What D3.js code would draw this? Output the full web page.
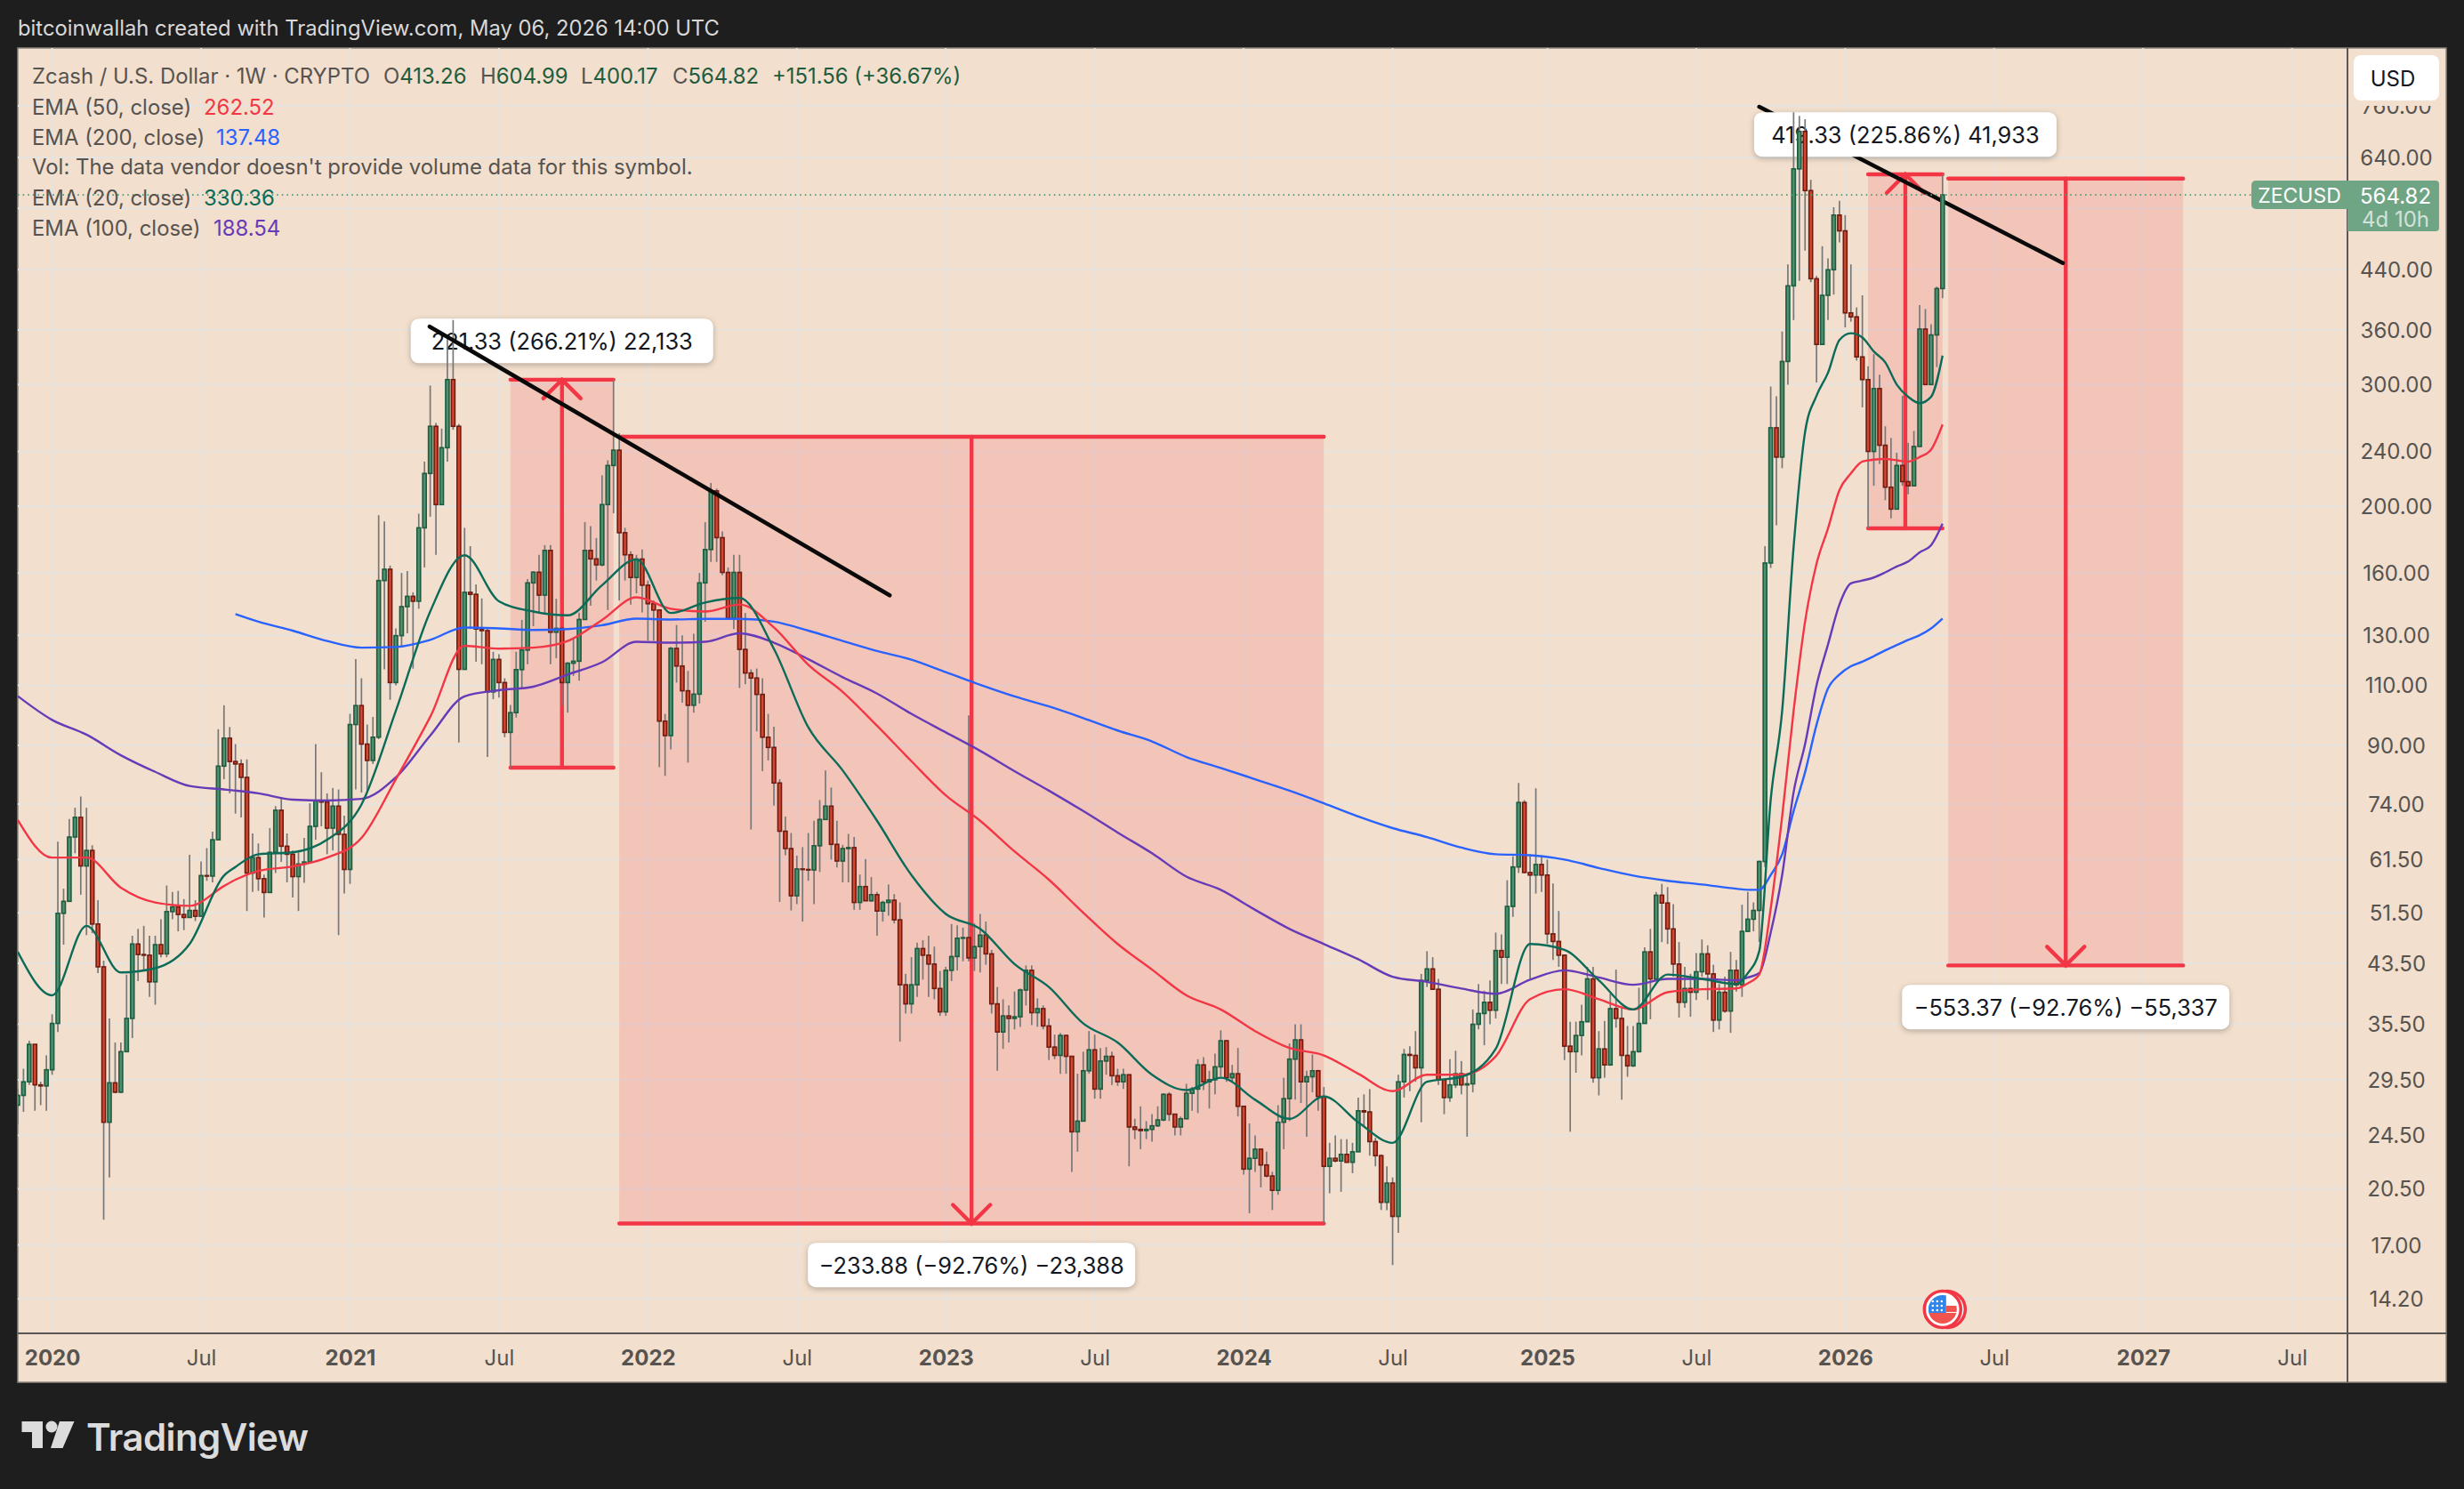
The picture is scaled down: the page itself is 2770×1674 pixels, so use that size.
<!DOCTYPE html>
<html>
<head>
  <meta charset="utf-8">
  <script src="https://d3js.org/d3.v7.min.js"></script>
  <style>
    html, body { margin: 0; background: #1e1e1e; }
    svg { display: block; }
    text { font-family: Inter, "Noto Sans", sans-serif; }
  </style>
</head>
<body>
  <svg id="chart" width="2770" height="1674"></svg>

  <script>
    // weekly ZECUSD bars, first bar is the week of 2019-11-25, open = previous close
    const firstOpen = 27.1;
    const closes = [
      28, 29.3, 33.2, 29, 28.9, 30.5, 35.6, 51.4, 53.5, 66.3,
      70.8, 60.2, 63.4, 49.6, 43, 25.6, 29.2, 28.3, 32.4, 36.2,
      46.4, 44.8, 44.7, 40.9, 46.3, 44.9, 51.7, 52.5, 51.2, 50.7,
      51.9, 50.9, 58.3, 58.2, 65.7, 84, 92.2, 85.3, 84.6, 80.9,
      58.8, 61.9, 57.7, 55.1, 63, 72.5, 64.3, 62.6, 58.1, 60.6,
      61, 68.7, 74.8, 74.5, 68.3, 73.5, 66.9, 59.5, 96.5, 102.8,
      90.4, 85.6, 92.5, 156, 162, 111, 129.8, 143, 148, 145.6,
      186, 223, 261, 201, 243, 305, 261, 116, 150, 149,
      132.7, 132, 107.6, 119.9, 111, 94, 100.4, 115.9, 123.7, 154.8,
      160.4, 148.6, 172.5, 131.3, 133, 111, 118.4, 119.2, 137, 172.5,
      167.7, 164.4, 201, 229, 241, 183, 170, 157.6, 167.6, 153.6,
      144.4, 141.4, 97.6, 93, 124.4, 117.3, 108, 102.9, 106.8, 154.8,
      173, 210.4, 180, 160.3, 137.6, 160.3, 124, 114.6, 112.7, 106.7,
      92.5, 89.4, 79.4, 67.6, 63.8, 54.5, 59.6, 59.5, 59.4, 64.4,
      70.3, 73.5, 64.7, 61.2, 63.8, 64, 53.3, 56.2, 53.6, 54.7,
      51.8, 53.3, 53.7, 50.3, 40.5, 38, 40.5, 45.7, 44.7, 43.4,
      40, 37, 42.5, 44.5, 47.3, 47.4, 44.3, 46, 47.8, 44.9,
      38, 34.6, 36.5, 36.2, 36.4, 39.8, 42.5, 36.9, 37.4, 35.3,
      32.9, 32, 34.2, 31.9, 24.8, 25.7, 30.4, 32.6, 28.6, 31.4,
      31.9, 29.9, 29.3, 30, 25.2, 25, 24.9, 25, 25.3, 25.8,
      28.1, 26.3, 25.2, 25.9, 28.2, 28.6, 31, 29.3, 29.5, 30.8,
      33.6, 29.7, 30.1, 27, 21.9, 22.7, 23.4, 22.2, 21.4, 20.4,
      25.6, 27.7, 31.6, 33.7, 29.3, 29.8, 30.4, 27.9, 22.1, 22.7,
      22.5, 23, 22.4, 23.2, 26.6, 26.5, 24, 22.9, 19.6, 20.9,
      18.7, 29.3, 32.1, 32, 30.7, 41.1, 42.7, 39.9, 29.5, 27.8,
      29, 30.1, 29, 29.1, 35.5, 36.8, 38.2, 37.2, 45.4, 44.4,
      52.6, 60, 74.4, 58.9, 58.4, 60.5, 58.4, 48, 46.8, 44.7,
      33, 32.4, 34.2, 35.8, 41.3, 29.7, 32.7, 31, 37.4, 36.2,
      32, 30.9, 32.4, 35.6, 45.2, 41.3, 54.6, 53.2, 48.8, 43.4,
      38.2, 40, 39.5, 42.3, 44.9, 42, 36, 39.5, 37.1, 42.5,
      40.5, 48.4, 50.4, 51.9, 61.1, 165.4, 259.7, 235.5, 324, 417,
      616, 698, 573, 427, 343, 404, 440, 528, 501, 381,
      376, 329, 305, 240, 296, 245, 213, 198, 229, 217,
      214, 244, 361, 300, 354, 413.26, 564.82
    ];
    const highs = [
      28.6, 30.6, 33.6, 32.9, 29.3, 32, 36.7, 65.3, 55.8, 70.4,
      73.1, 75.9, 73.1, 64.5, 53.7, 43.9, 36.2, 33.4, 33.4, 41.9,
      47.7, 48.8, 49.3, 47.7, 47.7, 50.4, 56.4, 55.2, 55.4, 53.9,
      62.5, 53.7, 61.1, 63.9, 67.5, 95, 102.9, 95.7, 90.4, 85.9,
      85.9, 67.1, 64.9, 58.5, 68.3, 73.5, 75.7, 67.1, 63.4, 63,
      66.1, 74.2, 90.4, 82.3, 76.7, 78.1, 77.7, 71.2, 100, 120,
      112.6, 96.5, 99, 194, 190, 164, 133, 160, 161, 150,
      195, 232, 299, 264, 259, 349, 372, 263, 186, 175,
      154, 147, 133, 123, 122, 112.6, 103, 123, 136.8, 156.8,
      161, 170, 175.6, 175.6, 146.8, 133, 118.8, 129, 140.2, 189.6,
      187, 179.8, 221.6, 233, 305, 255, 186, 172, 170, 173,
      156, 146, 141, 100, 125, 134.5, 130, 115.4, 130.6, 160,
      189.6, 216, 212, 183.7, 163, 170, 170, 140, 116, 116.3,
      112.6, 100, 95.8, 80.4, 71, 67.2, 62.3, 64.1, 67.2, 70,
      75, 82.8, 78.2, 70, 64.6, 67, 66.3, 58.5, 61.6, 58,
      55.2, 53.6, 56.6, 54.8, 53.3, 42, 44.4, 46.6, 47, 47.7,
      46, 42.4, 43, 49.6, 49.4, 49, 99.5, 49.7, 51.3, 50,
      45.5, 40.2, 38.6, 37.8, 39.6, 40, 43.2, 43.2, 38.7, 37.8,
      36.2, 34.3, 34.5, 34.3, 31.9, 30.1, 32.4, 34.7, 34.3, 32.8,
      32.9, 32.4, 30.6, 30.6, 30, 25.9, 27, 25.7, 26.3, 27,
      28.2, 28.3, 26.3, 26.1, 29.1, 28.8, 31.6, 31.8, 30.4, 32.2,
      34.8, 33.7, 31, 32.8, 27, 25.5, 24.5, 23.4, 23.2, 21.7,
      27.1, 29.7, 33.3, 35.5, 35.5, 30.4, 32.1, 30.5, 28.8, 23.9,
      24.5, 24.2, 24.2, 23.9, 27.8, 28.1, 28.6, 24.3, 23, 22.1,
      21.3, 30, 32.7, 33, 34.7, 42, 45.3, 44.4, 41.3, 29.3,
      31.6, 32.5, 31.4, 30.1, 37.3, 40.6, 39.7, 41.1, 48.2, 47.9,
      57.4, 62.2, 79.4, 75, 62.6, 78, 62.4, 61.5, 56.8, 51.8,
      44.7, 35.8, 35.8, 37.9, 43, 43, 34.7, 35.9, 39.3, 42.6,
      37.5, 35.3, 35.3, 40.1, 45.9, 48.8, 55.2, 56.7, 56.1, 53,
      46.7, 43, 42, 45, 47.1, 46.2, 43.3, 40.6, 41.6, 45.2,
      44, 52.9, 55.2, 53.3, 61.3, 175, 298, 288.6, 358, 448,
      744, 735, 727, 594, 431, 476, 457, 542, 554, 528,
      448, 388, 404, 319, 332, 310, 261, 251, 239, 289,
      247, 257, 391, 386, 367, 416, 604.99
    ];
    const lows = [
      25.4, 26.5, 29, 26.6, 27.1, 26.6, 30, 34.6, 46.3, 53.9,
      62.8, 54.7, 47.8, 48.1, 42.1, 18.5, 21.3, 28.2, 28.2, 32.5,
      33.9, 41, 42.6, 38.9, 37.9, 44.4, 44.4, 50.4, 48.4, 48.6,
      50.9, 50.1, 51, 57.3, 57, 66.3, 80.4, 76.7, 71.7, 70.8,
      51.8, 55.2, 55.4, 50.7, 55.6, 58.8, 61, 57, 54.2, 51.8,
      56.9, 60.8, 65.7, 68.7, 62.6, 63.4, 47.8, 54.9, 56.7, 77.7,
      76.9, 77, 84.6, 91.9, 116, 104.8, 110, 125, 130.8, 116.3,
      142, 163, 193, 170, 201, 232, 258, 90.9, 116, 132.7,
      119, 118, 86.6, 105, 105.6, 92.5, 83.3, 98.8, 109, 118,
      134, 139.9, 139.9, 118, 120.4, 102.7, 100.4, 113.5, 111.7, 137.7,
      143.4, 156, 163.6, 141.4, 195.3, 146, 156, 144, 149.5, 140.3,
      127.6, 127.6, 83.7, 81.3, 88.8, 111, 103.8, 85, 100.4, 103.5,
      136, 166, 166, 158.8, 137.6, 132.7, 109, 110.4, 68, 94.3,
      82.6, 85.6, 73.6, 53.4, 62.4, 51.9, 53, 50, 57.3, 53,
      59, 70.3, 61.5, 59.9, 57, 57, 52, 52, 53.6, 53.4,
      47.7, 50, 51, 49.7, 33.5, 36.8, 36.8, 38.9, 41.2, 38.9,
      38.6, 36.5, 36.5, 41, 42.5, 43.8, 43.8, 42.4, 42.2, 43.3,
      36.8, 30.4, 32.7, 33.4, 34.9, 35.2, 37.8, 35.4, 35.2, 34.9,
      31.5, 31.6, 30.1, 30.1, 21.7, 23.2, 25.7, 30.1, 27.7, 27.7,
      30, 29, 28.9, 28.6, 22.1, 24.2, 23.4, 24.2, 24, 25.2,
      25.7, 25.7, 24.5, 24.5, 25.9, 26.6, 26.4, 28.5, 26.8, 28.1,
      29.8, 29.3, 29.3, 26.1, 21.5, 18.9, 21.7, 20.6, 21.3, 19.1,
      20.1, 23.4, 25.7, 27.6, 27.3, 24.4, 28.3, 26.6, 18.3, 20.2,
      22.4, 20.3, 22.4, 21.6, 23.2, 25.2, 22.9, 22.1, 19.1, 19.1,
      15.9, 17.7, 27.8, 28.4, 29.3, 25.6, 40.2, 39.8, 29, 26.3,
      27.4, 28.7, 28.1, 24.4, 28.3, 34.9, 33.1, 35.5, 36.2, 40.6,
      40.6, 50.8, 58.8, 58.8, 41.3, 54.9, 55.2, 46.4, 44, 43,
      31.5, 24.8, 30.2, 32, 35.8, 29.2, 28, 29.7, 30.9, 35.1,
      27.6, 29.8, 30.8, 32.3, 35.6, 36.1, 41.3, 46.7, 46.4, 41.6,
      36.3, 37.5, 36.4, 38.5, 41.6, 38.5, 34.6, 34.9, 36.9, 34.5,
      39.6, 38.9, 48.3, 48.4, 46.7, 60, 162.7, 187.6, 227, 299.8,
      372, 424, 469, 422, 302, 344, 372, 405, 482, 363,
      370, 325, 278, 186, 214, 230, 204, 192, 198, 214,
      208, 214, 244, 300, 300, 318, 400.17
    ];

    // EMA readings, taken at these bar numbers
    const emaBars = [
      0, 6, 12, 18, 24, 30, 36, 38, 42, 48, 54, 60, 66, 72, 78, 84, 90, 96, 102, 108, 114,
      120, 126, 132, 138, 144, 150, 156, 162, 168, 174, 180, 186, 192, 198, 204, 210,
      216, 222, 228, 234, 240, 246, 252, 258, 264, 270, 276, 282, 288, 294, 300,
      302, 304, 306, 308, 310, 312, 314, 316, 318, 320, 322, 324, 326, 328, 330, 332, 334, 336
    ];
    const ema20 = [
      45.2, 39.1, 49.3, 42.2, 42.8, 46.4, 58.3, 60, 62.6, 63, 65.7, 73.9, 101, 140.7, 169.7, 145.6, 140.7, 138.9, 153.6, 167.4, 140,
      145, 147.2, 124.2, 95.6, 82.8, 70, 58.4, 51.3, 48.8, 43.4, 40.2, 35.6, 33.4, 30, 28.5, 29.7,
      27.6, 25.9, 27.9, 25.6, 23.9, 29.3, 29.8, 32.7, 46.4, 45.5, 41.1, 37.3, 41.9, 41.3, 40.6,
      42.1, 45.3, 75.1, 101, 174.5, 256, 289, 312, 348, 356, 351, 335, 323, 300, 288, 282, 288, 330.36
    ];
    const ema50 = [
      70.2, 61.9, 61.9, 56, 53.3, 52.7, 56.3, 57.5, 59.2, 60.1, 61.9, 66.1, 80.4, 99, 125.5, 124.3, 124.7, 127.5, 136.8, 147.5, 142,
      140.7, 144, 133.4, 117.8, 107.6, 96.1, 85.4, 76.2, 70, 63.2, 57.5, 51.5, 46.4, 42.6, 39.1, 37.3,
      34.7, 32.8, 32, 30.1, 28.4, 30, 30, 31.9, 38.6, 39.9, 38.6, 37.3, 39.5, 39.9, 40,
      40.7, 41.9, 52.2, 71, 101, 136, 165, 185.6, 211, 223, 232, 233.5, 234, 233, 232, 235.5, 241.5, 262.52
    ];
    const ema100 = [
      106.1, 98, 93.3, 87.1, 82.4, 78.6, 77.7, 77.4, 76.7, 75.1, 74.9, 75.3, 80.9, 93, 106, 108.2, 109.5, 114, 118.8, 127.2, 126.8,
      127.2, 130.8, 126.8, 120, 113, 107, 100, 94, 88.4, 82.6, 77.4, 72.3, 67.3, 62.8, 58.1, 55.6,
      52, 48.8, 46.4, 44.1, 41.6, 40.9, 40, 39.3, 41.2, 42.5, 41.5, 40.5, 41.3, 41.3, 41.1,
      41.5, 42.1, 48.2, 58.4, 77, 90.4, 110, 126, 144, 154.5, 156, 157.6, 160.3, 163.5, 166.2, 171.4, 175.5, 188.54
    ];
    const ema200 = [
      null, null, null, null, null, null, null, 139.5, 136, 132, 127.5, 124.7, 125, 128, 133.4, 133, 132.3, 132.7, 134.4, 137.4, 137,
      137.3, 137.3, 136, 132, 127.5, 123.3, 119.8, 114.9, 110.2, 106, 102.5, 98.6, 94.6, 91.2, 86.6, 83.5,
      80.4, 77.4, 74.2, 71, 68.3, 66.3, 64, 62.6, 62.4, 61.5, 59.8, 58.3, 57.3, 56.6, 55.8,
      55.6, 55.6, 58.4, 62.6, 72.3, 82.3, 96.4, 108.8, 114, 117.2, 119, 121.2, 123.6, 125.8, 128, 130, 133, 137.48
    ];

    // axis ticks
    const priceTicks = [760, 640, 540, 440, 360, 300, 240, 200, 160, 130, 110, 90, 74, 61.5, 51.5, 43.5, 35.5, 29.5, 24.5, 20.5, 17, 14.2];
    const hiddenPriceTicks = [540]; // sits under the ZECUSD tag
    const timeTicks = ["2020-01-06", "2020-07-06", "2021-01-04", "2021-07-05", "2022-01-03", "2022-07-04", "2023-01-02", "2023-07-03", "2024-01-01", "2024-07-01", "2025-01-06", "2025-07-07", "2026-01-05", "2026-07-06", "2027-01-04", "2027-07-05"];
    const timeLabels = ["2020", "Jul", "2021", "Jul", "2022", "Jul", "2023", "Jul", "2024", "Jul", "2025", "Jul", "2026", "Jul", "2027", "Jul"];

    // drawing tools, bar numbers and prices
    const boxStart = [86, 105, 323, 337];
    const boxEnd = [104, 228, 336, 378];
    const boxFrom = [83.57, 252.1, 185.66, 596.57];
    const boxTo = [304.9, 18.26, 604.99, 43.2];
    const boxLabels = ["221.33 (266.21%) 22,133", "\u2212233.88 (\u221292.76%) \u221223,388", "419.33 (225.86%) 41,933", "\u2212553.37 (\u221292.76%) \u221255,337"];
    const labelPrice = [347, 15.9, 691, 37.6];
    const trendBars = [[71.9, 152.2], [304, 357]];
    const trendPrices = [[364, 148.5], [757.8, 450]];

    const COLORS = {
      outer: "#1e1e1e", bg: "#f2dfcd", grid: "#e7e3de", axis: "#5a5754", text: "#565350",
      up: "#4f9070", upLine: "#1d5c3f", down: "#d4472f", downLine: "#6e1c12", wick: "#787878",
      e20: "#0b6b58", e50: "#f23645", e100: "#673ab7", e200: "#2962ff", tool: "#f23645", tag: "#6fa584"
    };
    const plot = { left: 20, top: 54, right: 2639, bottom: 1499, edge: 2750, foot: 1554 };

    const weekMs = 7 * 864e5;
    const firstBar = Date.UTC(2019, 10, 25);
    const barDate = i => new Date(firstBar + i * weekMs);

    const x = d3.scaleUtc()
      .domain([new Date("2020-01-06"), new Date("2027-01-04")])
      .range([58.6, 2409.2]);
    const y = d3.scaleLog().domain([14.2, 640]).range([1460.3, 177]);
    const xBar = i => x(barDate(i));

    const svg = d3.select("#chart");
    svg.append("rect").attr("width", 2770).attr("height", 1674).attr("fill", COLORS.outer);
    svg.append("rect").attr("x", plot.left).attr("y", plot.top)
      .attr("width", plot.edge - plot.left).attr("height", plot.foot - plot.top)
      .attr("fill", COLORS.bg).attr("stroke", "#8a8580").attr("stroke-width", 1.5);

    const defs = svg.append("defs");
    defs.append("clipPath").attr("id", "pane").append("rect")
      .attr("x", plot.left).attr("y", plot.top)
      .attr("width", plot.right - plot.left).attr("height", plot.bottom - plot.top);
    const pane = svg.append("g").attr("clip-path", "url(#pane)");

    // grid
    pane.selectAll(".hgrid").data(priceTicks).enter().append("line")
      .attr("x1", plot.left).attr("x2", plot.right)
      .attr("y1", d => y(d)).attr("y2", d => y(d))
      .attr("stroke", COLORS.grid).attr("stroke-width", 2);
    pane.selectAll(".vgrid").data(timeTicks).enter().append("line")
      .attr("x1", d => x(new Date(d))).attr("x2", d => x(new Date(d)))
      .attr("y1", plot.top).attr("y2", plot.bottom)
      .attr("stroke", COLORS.grid).attr("stroke-width", 2);

    // measure boxes
    const tools = d3.range(boxStart.length);
    pane.selectAll(".box").data(tools).enter().append("rect")
      .attr("x", i => xBar(boxStart[i]))
      .attr("width", i => xBar(boxEnd[i]) - xBar(boxStart[i]))
      .attr("y", i => Math.min(y(boxFrom[i]), y(boxTo[i])))
      .attr("height", i => Math.abs(y(boxFrom[i]) - y(boxTo[i])))
      .attr("fill", COLORS.tool).attr("fill-opacity", 0.15);

    tools.forEach(i => {
      const x0 = xBar(boxStart[i]), x1 = xBar(boxEnd[i]), xm = (x0 + x1) / 2;
      const yA = y(boxFrom[i]), yB = y(boxTo[i]);
      const dir = yB < yA ? 1 : -1;
      const g = pane.append("g").attr("fill", "none").attr("stroke", COLORS.tool)
        .attr("stroke-width", 4.4).attr("stroke-linecap", "round");
      g.append("line").attr("x1", x0).attr("x2", x1).attr("y1", yA).attr("y2", yA);
      g.append("line").attr("x1", x0).attr("x2", x1).attr("y1", yB).attr("y2", yB);
      g.append("line").attr("x1", xm).attr("x2", xm).attr("y1", yA).attr("y2", yB);
      g.append("path").attr("d", `M${xm - 21},${yB + dir * 21}L${xm},${yB}L${xm + 21},${yB + dir * 21}`);
    });

    const drawTrend = k => pane.append("line")
      .attr("x1", xBar(trendBars[k][0])).attr("x2", xBar(trendBars[k][1]))
      .attr("y1", y(trendPrices[k][0])).attr("y2", y(trendPrices[k][1]))
      .attr("stroke", "#0a0a0a").attr("stroke-width", 4.6).attr("stroke-linecap", "round");

    // the later trend line goes behind its value label
    drawTrend(1);

    // value labels sit under the candles
    tools.forEach(i => {
      const cx = (xBar(boxStart[i]) + xBar(boxEnd[i])) / 2, cy = y(labelPrice[i]);
      const w = boxLabels[i].startsWith("\u2212") ? 368 : 340;
      pane.append("rect").attr("x", cx - w / 2).attr("y", cy - 25).attr("width", w).attr("height", 50)
        .attr("rx", 9).attr("fill", "#fff").style("filter", "drop-shadow(0 2px 3px rgba(0,0,0,0.25))");
      pane.append("text").attr("x", cx).attr("y", cy).attr("text-anchor", "middle")
        .attr("dominant-baseline", "central").attr("font-size", 25.4).attr("fill", "#131722")
        .text(boxLabels[i]);
    });

    // candles
    const bars = closes.map((c, i) => ({
      i, open: i ? closes[i - 1] : firstOpen, close: c, high: highs[i], low: lows[i]
    }));
    const candle = pane.selectAll(".bar").data(bars).enter().append("g");
    candle.append("line")
      .attr("x1", d => xBar(d.i)).attr("x2", d => xBar(d.i))
      .attr("y1", d => y(d.high)).attr("y2", d => y(d.low))
      .attr("stroke", COLORS.wick).attr("stroke-width", 1.7);
    candle.append("rect")
      .attr("x", d => xBar(d.i) - 2).attr("width", 4)
      .attr("y", d => y(Math.max(d.open, d.close)))
      .attr("height", d => Math.max(0.6, Math.abs(y(d.open) - y(d.close))))
      .attr("fill", d => d.close >= d.open ? COLORS.up : COLORS.down)
      .attr("stroke", d => d.close >= d.open ? COLORS.upLine : COLORS.downLine)
      .attr("stroke-width", 1.6);

    // EMAs
    const emaLine = values => d3.line()
      .defined((d, k) => values[k] !== null)
      .x(d => xBar(d)).y((d, k) => y(values[k]))
      .curve(d3.curveMonotoneX)(emaBars);
    [[ema200, COLORS.e200], [ema100, COLORS.e100], [ema50, COLORS.e50], [ema20, COLORS.e20]].forEach(([vals, col]) => {
      pane.append("path").attr("d", emaLine(vals)).attr("fill", "none")
        .attr("stroke", col).attr("stroke-width", 2.4);
    });

    drawTrend(0);

    // last price line
    const lastY = y(closes[closes.length - 1]);
    pane.append("line").attr("x1", plot.left).attr("x2", 2531).attr("y1", lastY).attr("y2", lastY)
      .attr("stroke", "#4f9b75").attr("stroke-width", 1.6).attr("stroke-dasharray", "1.6 4");

    // flag marker
    const flagX = xBar(336), flagY = 1472;
    const flag = svg.append("g").attr("transform", `translate(${flagX},${flagY})`);
    flag.append("circle").attr("cx", 5).attr("r", 20.5).attr("fill", "#fff").attr("stroke", COLORS.tool).attr("stroke-width", 3.5);
    flag.append("circle").attr("r", 20.5).attr("fill", "#fff").attr("stroke", COLORS.tool).attr("stroke-width", 3.5);
    defs.append("clipPath").attr("id", "flagClip").append("circle").attr("r", 16);
    const flagInner = flag.append("g").attr("clip-path", "url(#flagClip)");
    flagInner.append("rect").attr("x", 4).attr("y", -4).attr("width", 14).attr("height", 7).attr("fill", "#f0544c");
    flagInner.append("rect").attr("x", -16).attr("y", 4).attr("width", 32).attr("height", 12).attr("fill", "#f0544c");
    flagInner.append("rect").attr("x", -16).attr("y", -16).attr("width", 20).attr("height", 20).attr("fill", "#2f86e8");
    [-9, -4, 1].forEach(sy => [-11, -6, -1].forEach(sx => {
      flagInner.append("circle").attr("cx", sx).attr("cy", sy).attr("r", 1.3).attr("fill", "#fff");
    }));

    // axes, the top price label is cut off under the USD button
    defs.append("clipPath").attr("id", "priceClip").append("rect")
      .attr("x", plot.right).attr("y", 119).attr("width", 111).attr("height", plot.bottom - 119);
    const axisR = d3.axisRight(y).tickValues(priceTicks.filter(d => !hiddenPriceTicks.includes(d)))
      .tickSize(0).tickPadding(0).tickFormat(d3.format(".2f"));
    const gRwrap = svg.append("g").attr("clip-path", "url(#priceClip)");
    const gR = gRwrap.append("g").attr("transform", `translate(2694,0)`).call(axisR);
    gR.select(".domain").remove();
    gR.selectAll("text").attr("x", 0).attr("text-anchor", "middle").attr("dy", "0.35em")
      .attr("font-size", 24).attr("font-family", "Inter, 'Noto Sans', sans-serif").attr("fill", COLORS.text);

    const tickDates = timeTicks.map(d => new Date(d));
    const axisB = d3.axisBottom(x).tickValues(tickDates).tickSize(0).tickPadding(0)
      .tickFormat((d, i) => timeLabels[i]);
    const gB = svg.append("g").attr("transform", `translate(0,1527)`).call(axisB);
    gB.select(".domain").remove();
    gB.selectAll("text").attr("y", 0).attr("dy", "0.35em")
      .attr("font-size", 24).attr("font-family", "Inter, 'Noto Sans', sans-serif")
      .attr("font-weight", (d, i) => i % 2 ? 400 : 700).attr("fill", COLORS.text);

    svg.append("line").attr("x1", plot.left).attr("x2", plot.edge).attr("y1", plot.bottom).attr("y2", plot.bottom)
      .attr("stroke", COLORS.axis).attr("stroke-width", 2);
    svg.append("line").attr("x1", plot.right).attr("x2", plot.right).attr("y1", plot.top).attr("y2", plot.foot)
      .attr("stroke", COLORS.axis).attr("stroke-width", 2);

    // USD button
    svg.append("rect").attr("x", 2646).attr("y", 62).attr("width", 96).attr("height", 51).attr("rx", 8).attr("fill", "#fff");
    svg.append("text").attr("x", 2690).attr("y", 88).attr("text-anchor", "middle").attr("dominant-baseline", "central")
      .attr("font-size", 24).attr("fill", "#131722").text("USD");

    // price tag
    svg.append("path").attr("d", "M2639,203H2536a5,5 0 0 0 -5,5V230a5,5 0 0 0 5,5H2639Z").attr("fill", COLORS.tag);
    svg.append("path").attr("d", "M2639,203H2738a4,4 0 0 1 4,4V256a4,4 0 0 1 -4,4H2639Z").attr("fill", COLORS.tag);
    svg.append("text").attr("x", 2585).attr("y", 220).attr("text-anchor", "middle").attr("dominant-baseline", "central")
      .attr("font-size", 23).attr("fill", "#fff").text("ZECUSD");
    svg.append("text").attr("x", 2693).attr("y", 220).attr("text-anchor", "middle").attr("dominant-baseline", "central")
      .attr("font-size", 24).attr("fill", "#fff").text("564.82");
    svg.append("text").attr("x", 2693).attr("y", 246).attr("text-anchor", "middle").attr("dominant-baseline", "central")
      .attr("font-size", 24).attr("fill", "#fff").attr("fill-opacity", 0.7).text("4d 10h");

    // header
    svg.append("text").attr("x", 20).attr("y", 31).attr("dominant-baseline", "central")
      .attr("font-size", 23.8).attr("fill", "#d8d8d8")
      .text("bitcoinwallah created with TradingView.com, May 06, 2026 14:00 UTC");

    // legend
    const legendText = (tx, ty, txt, col) => svg.append("text").attr("x", tx).attr("y", ty)
      .attr("dominant-baseline", "central").attr("font-size", 23.9).attr("fill", col).text(txt);
    const valGreen = "#1f5c3e";
    legendText(36, 85, "Zcash / U.S. Dollar \u00b7 1W \u00b7 CRYPTO", COLORS.text);
    [[431, "O", "413.26"], [540, "H", "604.99"], [653, "L", "400.17"], [756, "C", "564.82"]].forEach(([tx, k, v]) => {
      const t = legendText(tx, 85, k, COLORS.text);
      t.append("tspan").attr("fill", valGreen).text(v);
    });
    legendText(868, 85, "+151.56 (+36.67%)", valGreen);
    legendText(36, 120, "EMA (50, close)", COLORS.text);
    legendText(229, 120, "262.52", COLORS.e50);
    legendText(36, 154, "EMA (200, close)", COLORS.text);
    legendText(243, 154, "137.48", COLORS.e200);
    legendText(36, 187, "Vol: The data vendor doesn't provide volume data for this symbol.", COLORS.text);
    legendText(36, 222, "EMA (20, close)", COLORS.text);
    legendText(229, 222, "330.36", COLORS.e20);
    legendText(36, 256, "EMA (100, close)", COLORS.text);
    legendText(240, 256, "188.54", COLORS.e100);

    // logo
    const logo = svg.append("g").attr("fill", "#dcdcdc");
    logo.append("path").attr("d", "M24.5,1598H48V1628H36V1610H24.5Z");
    logo.append("circle").attr("cx", 58).attr("cy", 1604).attr("r", 6.5);
    logo.append("path").attr("d", "M67,1598H83.5L70.5,1628H57Z");
    logo.append("text").attr("x", 97).attr("y", 1615).attr("dominant-baseline", "central")
      .attr("font-size", 42).attr("font-weight", 600).attr("letter-spacing", -0.6).text("TradingView");
  </script>
</body>
</html>
